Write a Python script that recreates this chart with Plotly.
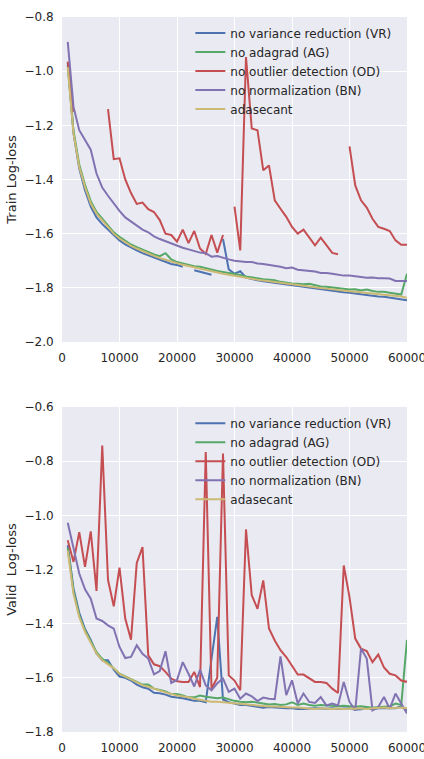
import plotly.graph_objects as go

iterations = [1000, 2000, 3000, 4000, 5000, 6000, 7000, 8000, 9000, 10000,
              11000, 12000, 13000, 14000, 15000, 16000, 17000, 18000, 19000, 20000,
              21000, 22000, 23000, 24000, 25000, 26000, 27000, 28000, 29000, 30000,
              31000, 32000, 33000, 34000, 35000, 36000, 37000, 38000, 39000, 40000,
              41000, 42000, 43000, 44000, 45000, 46000, 47000, 48000, 49000, 50000,
              51000, 52000, 53000, 54000, 55000, 56000, 57000, 58000, 59000, 60000]

series_names = ["no variance reduction (VR)", "no adagrad (AG)",
                "no outlier detection (OD)", "no normalization (BN)", "adasecant"]
series_colors = ["#4C72B0", "#55A868", "#C44E52", "#8172B2", "#CCB974"]

# ---- Train log-loss ----
train_vr = [-0.97, -1.23, -1.36, -1.44, -1.50, -1.54, -1.565, -1.585, -1.605, -1.625,
            -1.64, -1.652, -1.662, -1.672, -1.68, -1.69, -1.698, -1.705, -1.712, -1.716,
            -1.722, None, -1.735, -1.74, -1.746, -1.752, None, -1.62, -1.732, -1.748,
            -1.739, -1.762, -1.768, -1.772, -1.776, -1.779, -1.782, -1.785, -1.788, -1.791,
            -1.794, -1.797, -1.80, -1.802, -1.806, -1.808, -1.811, -1.813, -1.816, -1.818,
            -1.821, -1.823, -1.826, -1.828, -1.832, -1.833, -1.836, -1.838, -1.842, -1.846]
train_ag = [-0.98, -1.22, -1.345, -1.42, -1.48, -1.52, -1.545, -1.57, -1.595, -1.612,
            -1.627, -1.64, -1.65, -1.66, -1.668, -1.677, -1.683, -1.672, -1.695, -1.705,
            -1.71, -1.715, -1.72, -1.722, -1.728, -1.733, -1.738, -1.742, -1.745, -1.75,
            -1.753, -1.758, -1.762, -1.765, -1.768, -1.77, -1.772, -1.778, -1.782, -1.784,
            -1.785, -1.787, -1.785, -1.79, -1.795, -1.796, -1.798, -1.801, -1.803, -1.806,
            -1.805, -1.81, -1.806, -1.812, -1.815, -1.815, -1.818, -1.822, -1.825, -1.748]
train_od = [-0.965, -1.15, None, None, None, None, None, -1.14, -1.325, -1.322,
            -1.40, -1.45, -1.49, -1.485, -1.51, -1.52, -1.55, -1.60, -1.605, -1.63,
            -1.585, -1.635, -1.59, -1.655, -1.675, -1.605, -1.67, -1.605, None, -1.50,
            -1.662, -0.948, -1.212, -1.218, -1.366, -1.348, -1.477, -1.508, -1.538, -1.575,
            -1.60, -1.585, -1.612, -1.643, -1.615, -1.643, -1.671, -1.676, None, -1.278,
            -1.422, -1.477, -1.504, -1.545, -1.575, -1.582, -1.59, -1.625, -1.641, -1.641]
train_bn = [-0.892, -1.132, -1.218, -1.255, -1.29, -1.378, -1.43, -1.46, -1.49, -1.516,
            -1.54, -1.555, -1.57, -1.585, -1.595, -1.61, -1.62, -1.628, -1.635, -1.645,
            -1.652, -1.658, -1.665, -1.67, -1.672, -1.685, -1.683, -1.69, -1.695, -1.70,
            -1.703, -1.705, -1.705, -1.71, -1.712, -1.715, -1.718, -1.722, -1.728, -1.725,
            -1.733, -1.735, -1.737, -1.74, -1.745, -1.745, -1.748, -1.752, -1.755, -1.755,
            -1.758, -1.76, -1.763, -1.762, -1.765, -1.765, -1.766, -1.775, -1.775, -1.775]
train_ada = [-0.985, -1.23, -1.354, -1.428, -1.489, -1.526, -1.551, -1.575, -1.60, -1.618,
             -1.632, -1.645, -1.655, -1.665, -1.674, -1.682, -1.69, -1.697, -1.703, -1.709,
             -1.715, -1.72, -1.725, -1.73, -1.735, -1.74, -1.744, -1.748, -1.752, -1.756,
             -1.76, -1.763, -1.767, -1.77, -1.773, -1.776, -1.779, -1.782, -1.785, -1.788,
             -1.79, -1.793, -1.796, -1.798, -1.801, -1.803, -1.806, -1.808, -1.81, -1.813,
             -1.815, -1.817, -1.82, -1.822, -1.824, -1.826, -1.828, -1.83, -1.832, -1.837]

# ---- Valid log-loss ----
valid_vr = [-1.11, -1.27, -1.36, -1.42, -1.46, -1.51, -1.535, -1.535, -1.57, -1.595,
            -1.60, -1.61, -1.625, -1.635, -1.64, -1.655, -1.657, -1.662, -1.67, -1.672,
            -1.675, -1.68, -1.685, -1.685, -1.69, -1.53, -1.375, -1.68, -1.69, -1.695,
            -1.70, -1.70, -1.703, -1.705, -1.71, -1.708, -1.71, -1.71, -1.712, -1.712,
            -1.715, -1.715, -1.713, -1.712, -1.713, -1.714, -1.712, -1.715, -1.713, -1.712,
            -1.718, -1.716, -1.71, -1.717, -1.712, -1.712, -1.71, -1.712, -1.705, -1.72]
valid_ag = [-1.12, -1.28, -1.37, -1.425, -1.465, -1.505, -1.53, -1.545, -1.565, -1.585,
            -1.595, -1.605, -1.615, -1.625, -1.625, -1.64, -1.645, -1.65, -1.66, -1.66,
            -1.665, -1.672, -1.672, -1.665, -1.67, -1.672, -1.675, -1.673, -1.68, -1.685,
            -1.688, -1.69, -1.688, -1.692, -1.695, -1.698, -1.697, -1.70, -1.698, -1.69,
            -1.70, -1.695, -1.70, -1.703, -1.70, -1.702, -1.705, -1.705, -1.703, -1.705,
            -1.707, -1.705, -1.708, -1.71, -1.708, -1.707, -1.706, -1.695, -1.70, -1.46]
valid_od = [-1.092, -1.172, -1.062, -1.19, -1.059, -1.279, -0.742, -1.238, -1.336, -1.193,
            -1.381, -1.459, -1.176, -1.117, -1.517, -1.55, -1.557, -1.578, -1.603, -1.613,
            -1.615, -1.615, -1.578, -1.634, -0.766, -1.64, -1.60, -0.772, -1.591, -1.61,
            -1.646, -1.052, -1.295, -1.345, -1.24, -1.418, -1.462, -1.498, -1.523, -1.554,
            -1.588, -1.588, -1.603, -1.615, -1.615, -1.619, -1.64, -1.656, -1.185, -1.302,
            -1.455, -1.492, -1.501, -1.542, -1.514, -1.562, -1.585, -1.591, -1.61, -1.615]
valid_bn = [-1.027, -1.123, -1.215, -1.273, -1.308, -1.381, -1.39, -1.406, -1.418, -1.486,
            -1.527, -1.523, -1.48, -1.511, -1.529, -1.587, -1.575, -1.502, -1.619, -1.608,
            -1.542, -1.585, -1.632, -1.57, -1.628, -1.646, -1.62, -1.603, -1.652, -1.64,
            -1.677, -1.658, -1.668, -1.686, -1.673, -1.677, -1.679, -1.521, -1.664, -1.609,
            -1.695, -1.658, -1.689, -1.693, -1.671, -1.702, -1.695, -1.702, -1.615, -1.689,
            -1.72, -1.492, -1.529, -1.72, -1.708, -1.671, -1.714, -1.658, -1.695, -1.732]
valid_ada = [-1.13, -1.29, -1.375, -1.43, -1.47, -1.51, -1.535, -1.55, -1.565, -1.585,
             -1.595, -1.607, -1.617, -1.627, -1.633, -1.64, -1.648, -1.653, -1.66, -1.665,
             -1.668, -1.672, -1.677, -1.68, -1.685, -1.688, -1.688, -1.69, -1.693, -1.695,
             -1.697, -1.70, -1.702, -1.703, -1.705, -1.706, -1.706, -1.708, -1.708, -1.71,
             -1.71, -1.712, -1.712, -1.715, -1.712, -1.714, -1.715, -1.713, -1.715, -1.713,
             -1.714, -1.712, -1.715, -1.712, -1.71, -1.71, -1.712, -1.71, -1.71, -1.712]

x_ticks = [0, 10000, 20000, 30000, 40000, 50000, 60000]
x_tick_labels = ["0", "10000", "20000", "30000", "40000", "50000", "60000"]
train_y_range = [-2.0, -0.8]
valid_y_range = [-1.8, -0.6]

FONT = "DejaVu Sans"
TXT = "#262626"

fig = go.Figure()
train_series = [train_vr, train_ag, train_od, train_bn, train_ada]
valid_series = [valid_vr, valid_ag, valid_od, valid_bn, valid_ada]
for name, color, ys in zip(series_names, series_colors, train_series):
    fig.add_trace(go.Scatter(x=iterations, y=ys, mode="lines", name=name,
                             line=dict(color=color, width=2),
                             xaxis="x", yaxis="y", legend="legend"))
for name, color, ys in zip(series_names, series_colors, valid_series):
    fig.add_trace(go.Scatter(x=iterations, y=ys, mode="lines", name=name,
                             line=dict(color=color, width=2),
                             xaxis="x2", yaxis="y2", legend="legend2"))

xaxis_common = dict(range=[0, 60000], tickvals=x_ticks, ticktext=x_tick_labels,
                    showgrid=True, gridcolor="white", gridwidth=1.3, zeroline=False,
                    showline=False, ticks="outside", ticklen=5,
                    tickcolor="rgba(0,0,0,0)", ticklabeloverflow="allow",
                    automargin=False,
                    tickfont=dict(family=FONT, size=12, color=TXT))
yaxis_common = dict(dtick=0.2, tickformat=".1f", showgrid=True, gridcolor="white",
                    gridwidth=1.3, zeroline=False, showline=False, ticks="outside",
                    ticklen=5, tickcolor="rgba(0,0,0,0)", automargin=False,
                    tickfont=dict(family=FONT, size=12, color=TXT))

legend_common = dict(bgcolor="rgba(0,0,0,0)", borderwidth=0, xanchor="left",
                     yanchor="top", font=dict(family=FONT, size=12, color=TXT),
                     tracegroupgap=0)

fig.update_layout(
    width=424, height=759,
    margin=dict(l=62, r=17, t=17, b=27, autoexpand=False),
    paper_bgcolor="white", plot_bgcolor="#EAEAF2",
    font=dict(family=FONT, color=TXT),
    xaxis=dict(domain=[0, 1], anchor="y", **xaxis_common),
    yaxis=dict(domain=[0.5455, 1], anchor="x", range=train_y_range,
               title=dict(text="Train Log-loss", font=dict(family=FONT, size=13, color=TXT), standoff=4),
               **yaxis_common),
    xaxis2=dict(domain=[0, 1], anchor="y2", **xaxis_common),
    yaxis2=dict(domain=[0, 0.4545], anchor="x2", range=valid_y_range,
                title=dict(text="Valid  Log-loss", font=dict(family=FONT, size=13, color=TXT), standoff=4),
                **yaxis_common),
    legend=dict(x=0.372, y=0.9978, **legend_common),
    legend2=dict(x=0.372, y=0.4522, **legend_common),
)

fig.write_html("out.html")
